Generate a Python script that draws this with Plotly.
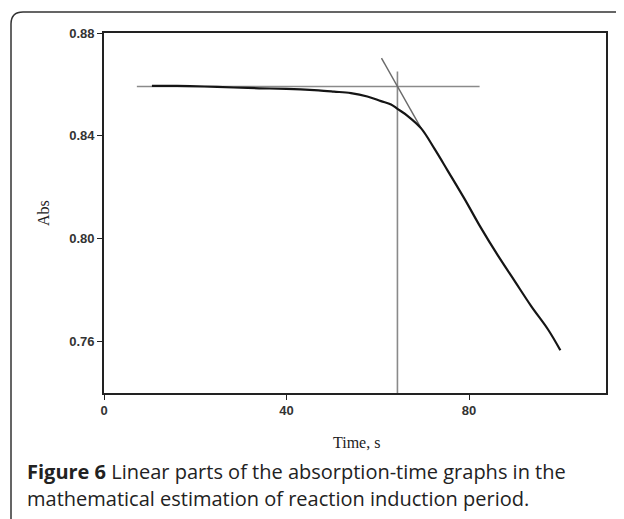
import plotly.graph_objects as go

# Absorbance curve
time_s = [10.5, 16, 22, 28.4, 34, 40, 43.1, 47, 50.4, 54.1, 57.7, 60.7, 62.9, 64.3,
          66.5, 69.5, 72.4, 75.3, 79.0, 82.6, 86.3, 90.0, 93.6, 97.3, 100.0]
absorbance = [0.8594, 0.8594, 0.8592, 0.8588, 0.8585, 0.8583, 0.8581, 0.8577, 0.8572,
              0.8566, 0.8553, 0.8535, 0.8522, 0.8505, 0.8478, 0.8429, 0.8350, 0.8265,
              0.8155, 0.8042, 0.7935, 0.7835, 0.7738, 0.7647, 0.7566]

# Linear parts (construction lines)
base_x = [7.2, 82.3]
base_y = [0.8592, 0.8592]
induction_x = [64.3, 64.3]
induction_y = [0.74, 0.865]
tangent_x = [60.8, 69.5]
tangent_y = [0.8702, 0.8429]

x_ticks = [0, 40, 80]
y_ticks = [0.76, 0.80, 0.84, 0.88]

OFF = 8  # page body margin
W, H = 624 - OFF, 519 - OFF
ML, MT = 104 - OFF, 33 - OFF
PR, PB = 606 - OFF, 393 - OFF
MR, MB = W - PR, H - PB
PW, PH = W - ML - MR, H - MT - MB


def px(x):
    return (x - OFF - ML) / PW


def py(y):
    return (H - MB - (y - OFF)) / PH


fig = go.Figure()
fig.add_trace(go.Scatter(x=base_x, y=base_y, mode="lines",
                         line=dict(color="#8a8a8a", width=1.6), hoverinfo="skip"))
fig.add_trace(go.Scatter(x=induction_x, y=induction_y, mode="lines",
                         line=dict(color="#8a8a8a", width=1.6), hoverinfo="skip"))
fig.add_trace(go.Scatter(x=tangent_x, y=tangent_y, mode="lines",
                         line=dict(color="#6a6a6a", width=1.4), hoverinfo="skip"))
fig.add_trace(go.Scatter(x=time_s, y=absorbance, mode="lines", line_shape="spline",
                         line=dict(color="#151515", width=2.2)))

axis_common = dict(showline=True, linecolor="#222", linewidth=1.6, mirror=True,
                   ticks="outside", ticklen=5, tickcolor="#222", tickwidth=1.2,
                   showgrid=False, zeroline=False,
                   tickfont=dict(family="Liberation Sans", size=13, color="#333",
                                 weight="bold"))

fig.update_xaxes(range=[0, 110], tickvals=x_ticks, ticktext=[str(v) for v in x_ticks],
                 **axis_common)
fig.update_yaxes(range=[0.74, 0.88], tickvals=y_ticks,
                 ticktext=[f"{v:.2f}" for v in y_ticks], **axis_common)

# Card border (rounded corner at top-left, open to right/bottom)
x0, y0, r = 11, 12, 12
path = (f"M {px(x0)},{py(H + 40)} L {px(x0)},{py(y0 + r)} "
        f"Q {px(x0)},{py(y0)} {px(x0 + r)},{py(y0)} L {px(W + 40)},{py(y0)}")
fig.add_shape(type="path", path=path, xref="paper", yref="paper",
              line=dict(color="#333", width=1.5))

fig.add_annotation(text="Abs", xref="paper", yref="paper", x=px(43), y=py(213),
                   xanchor="center", yanchor="middle",
                   showarrow=False, textangle=-90,
                   font=dict(family="Liberation Serif", size=16, color="#222"))
fig.add_annotation(text="Time, s", xref="paper", yref="paper", x=px(356), y=py(442),
                   xanchor="center", yanchor="middle", showarrow=False,
                   font=dict(family="Liberation Serif", size=16, color="#222"))

cap_font = dict(family="Open Sans", size=20, color="#222")
fig.add_annotation(
    text="<b>Figure 6</b> Linear parts of the absorption-time graphs in the",
    xref="paper", yref="paper", x=px(25), y=py(471), xanchor="left", yanchor="middle",
    align="left", showarrow=False, font=cap_font)
fig.add_annotation(
    text="mathematical estimation of reaction induction period.",
    xref="paper", yref="paper", x=px(25), y=py(498), xanchor="left", yanchor="middle",
    align="left", showarrow=False, font=cap_font)

fig.update_layout(width=W, height=H, margin=dict(l=ML, r=MR, t=MT, b=MB),
                  paper_bgcolor="white", plot_bgcolor="white", showlegend=False)

fig.write_html("out.html")
